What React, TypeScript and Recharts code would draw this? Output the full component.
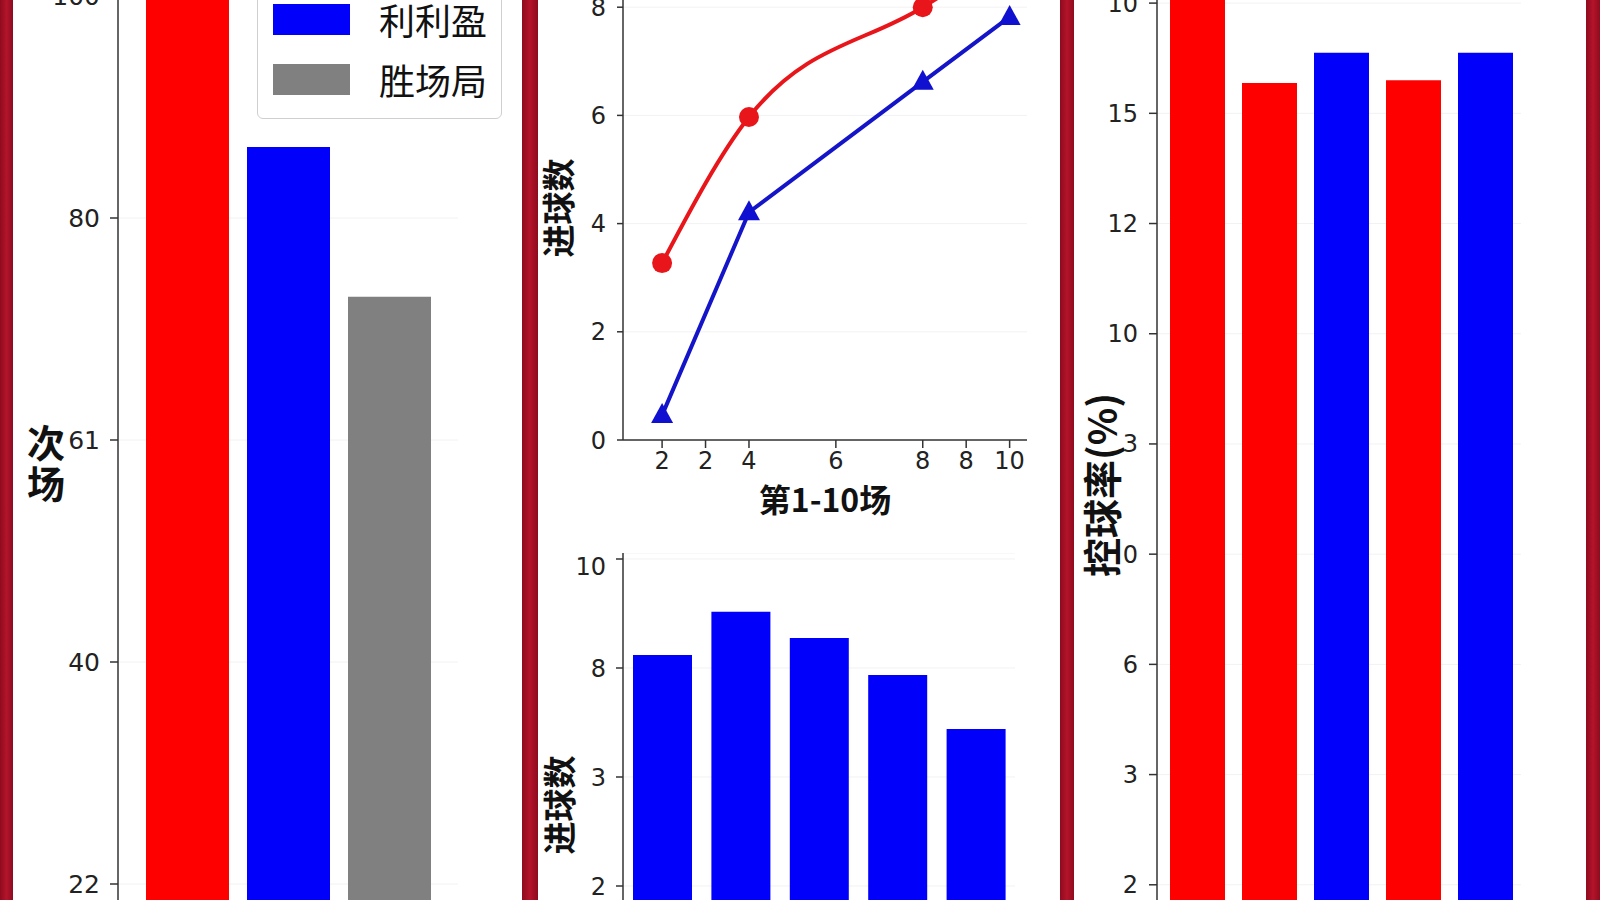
import { Bar, BarChart, CartesianGrid, Cell, Label, Legend, Line, LineChart, XAxis, YAxis } from "recharts"

const CJK = '"Noto Sans CJK SC", "Noto Sans", sans-serif'
const NUM = '"DejaVu Sans", sans-serif'
const RED = '#fe0000'
const BLUE = '#0000fb'
const GRAY = '#808080'

// left panel: counts
const countKeys = ['total', 'profit', 'wins']
const countNames = ['', '利利盈', '胜场局']
const countValues = [108, 86.4, 72.9]
const countColors = [RED, BLUE, GRAY]
const countTicks = [20, 40, 60, 80, 100]
const countTickLabels = ['22', '40', '61', '80', '100']

// middle top: goals per match
const matchX = [2, 4, 8, 10]
const redGoals = [3.27, 5.97, 8.0, 9.0]
const blueGoals = [0.46, 4.21, 6.62, 7.82]
const matchTicks = [2, 3, 4, 6, 8, 9, 10]
const matchTickLabels = ['2', '2', '4', '6', '8', '8', '10']
const goalTicks = [0, 2, 4, 6, 8]

// middle bottom: goals per round
const roundNames = ['1', '2', '3', '4', '5']
const roundGoals = [8.24, 9.03, 8.55, 7.87, 6.88]
const roundTicks = [4, 6, 8, 10]
const roundTickLabels = ['2', '3', '8', '10']

// right panel: possession
const possessionNames = ['1', '2', '3', '4', '5']
const possessionValues = [18.8, 16.55, 17.1, 16.6, 17.1]
const possessionColors = [RED, RED, BLUE, RED, BLUE]
const possessionTicks = [2, 4, 6, 8, 10, 12, 14, 16, 18]
const possessionTickLabels = ['2', '3', '6', '0', '3', '10', '12', '15', '10']

const countData = [Object.fromEntries([['name', 'all'], ...countKeys.map((k, i) => [k, countValues[i]])])]
const matchData = matchX.map((x, i) => ({ x, red: redGoals[i], blue: blueGoals[i] }))
const roundData = roundNames.map((name, i) => ({ name, goals: roundGoals[i] }))
const possessionData = possessionNames.map((name, i) => ({ name, rate: possessionValues[i] }))

const fmt = (ticks: number[], labels: string[]) => (v: number) => labels[ticks.indexOf(v)] ?? ''

const axisLine = { stroke: '#333', strokeWidth: 1.5 }
const tickLine = { stroke: '#333', strokeWidth: 1.5 }
const tickStyle = (size: number) => ({ fontSize: size, fill: '#222', fontFamily: NUM })

// axis title drawn relative to the axis box
const rotatedTitle = (text: string, dx: number, dy: number, size: number) => (props: any) => {
  const vb = props.viewBox
  const x = vb.x + dx
  const y = vb.y + dy
  return (
    <text x={x} y={y} transform={`rotate(-90, ${x}, ${y})`} textAnchor="middle" dominantBaseline="central"
      fontSize={size} fontWeight={700} fontFamily={CJK} fill="#111">{text}</text>
  )
}

const stackedTitle = (text: string, dx: number, dy: number, size: number, step: number) => (props: any) => {
  const vb = props.viewBox
  return (
    <g>
      {text.split('').map((ch, i) => (
        <text key={i} x={vb.x + dx} y={vb.y + dy + i * step} textAnchor="middle" dominantBaseline="central"
          fontSize={size} fontWeight={700} fontFamily={CJK} fill="#111">{ch}</text>
      ))}
    </g>
  )
}

const flatTitle = (text: string, dx: number, dy: number, size: number) => (props: any) => {
  const vb = props.viewBox
  return (
    <text x={vb.x + dx} y={vb.y + dy} textAnchor="middle" dominantBaseline="central"
      fontSize={size} fontWeight={700} fontFamily={CJK} fill="#111">{text}</text>
  )
}

const CountLegend = (props: any) => (
  <div style={{ border: '1.5px solid #cfcfcf', borderRadius: 6, background: '#fff', padding: '15px 0 9px 15px', boxSizing: 'border-box' }}>
    {(props.payload || []).filter((p: any) => p.type !== 'none' && p.value).map((p: any) => (
      <div key={p.value} style={{ display: 'flex', alignItems: 'center', height: 60 }}>
        <span style={{ width: 77, height: 31, background: p.color, display: 'inline-block' }} />
        <span style={{ marginLeft: 29, fontSize: 36, fontFamily: CJK, color: '#111', lineHeight: 1 }}>{p.value}</span>
      </div>
    ))}
  </div>
)

const Triangle = (props: any) => {
  const { cx, cy } = props
  if (cx == null || cy == null) return null
  return <path d={`M${cx},${cy - 12} L${cx + 11},${cy + 8} L${cx - 11},${cy + 8} Z`} fill="#1010d0" />
}

const divider = (left: number, width: number) => (
  <div style={{ position: 'absolute', left, top: 0, width, height: 900, background: 'linear-gradient(90deg, #8e0b1e, #b3142b 50%, #8e0b1e)' }} />
)

export default function App() {
  return (
    <div style={{ position: 'relative', width: 1600, height: 900, overflow: 'hidden', background: '#fff' }}>
      <style>{'body{margin:0}'}</style>

      {/* left panel */}
      <div style={{ position: 'absolute', left: 13, top: -226 }}>
        <BarChart width={445} height={1332} data={countData} margin={{ top: 0, right: 0, bottom: 0, left: 0 }} barSize={83} barGap={18}>
          <CartesianGrid vertical={false} stroke="#f2f2f2" />
          <XAxis dataKey="name" hide />
          <YAxis width={105} domain={[0, 120]} ticks={countTicks} tickFormatter={fmt(countTicks, countTickLabels)}
            axisLine={axisLine} tickLine={tickLine} tickSize={8} tickMargin={10} tick={tickStyle(25)}>
            <Label content={stackedTitle('次场', 33, 666, 38, 41)} />
          </YAxis>
          <Legend layout="vertical" align="center" verticalAlign="middle" wrapperStyle={{ left: 244, top: 199, width: 245 }} content={CountLegend} />
          {countKeys.map((k, i) => (
            <Bar key={k} dataKey={k} name={countNames[i]} fill={countColors[i]} isAnimationActive={false} legendType={i === 0 ? 'none' : 'rect'} />
          ))}
        </BarChart>
      </div>

      {/* middle top */}
      <div style={{ position: 'absolute', left: 528, top: -101 }}>
        <LineChart width={509} height={641} data={matchData} margin={{ top: 0, right: 10, bottom: 40, left: 0 }}>
          <CartesianGrid vertical={false} stroke="#f2f2f2" />
          <XAxis dataKey="x" type="number" domain={[1.1, 10.4]} ticks={matchTicks} tickFormatter={fmt(matchTicks, matchTickLabels)}
            height={60} axisLine={axisLine} tickLine={tickLine} tickSize={8} tickMargin={4} tick={tickStyle(24)} interval={0}>
            <Label content={flatTitle('第1-10场', 202, 58, 32)} />
          </XAxis>
          <YAxis width={95} domain={[0, 10]} ticks={goalTicks} axisLine={axisLine} tickLine={tickLine} tickSize={6} tickMargin={11} tick={tickStyle(24)}>
            <Label content={rotatedTitle('进球数', 29, 309, 33)} />
          </YAxis>
          <Line type="monotone" dataKey="red" stroke="#e8161a" strokeWidth={4} dot={{ r: 10, fill: '#e8161a', stroke: 'none' }} isAnimationActive={false} />
          <Line type="linear" dataKey="blue" stroke="#1414c8" strokeWidth={4} dot={<Triangle />} isAnimationActive={false} />
        </LineChart>
      </div>

      {/* middle bottom */}
      <div style={{ position: 'absolute', left: 528, top: 553 }}>
        <BarChart width={487} height={551} data={roundData} margin={{ top: 0, right: 0, bottom: 0, left: 0 }} barSize={59}>
          <CartesianGrid vertical={false} stroke="#f2f2f2" />
          <XAxis dataKey="name" hide />
          <YAxis width={95} domain={[0, 10.11]} ticks={roundTicks} tickFormatter={fmt(roundTicks, roundTickLabels)}
            axisLine={axisLine} tickLine={tickLine} tickSize={7} tickMargin={10} tick={tickStyle(24)}>
            <Label content={rotatedTitle('进球数', 30, 252, 33)} />
          </YAxis>
          <Bar dataKey="goals" fill={BLUE} isAnimationActive={false} />
        </BarChart>
      </div>

      {/* right panel */}
      <div style={{ position: 'absolute', left: 1074, top: -52 }}>
        <BarChart width={447} height={1047} data={possessionData} margin={{ top: 0, right: 0, bottom: 0, left: 0 }} barSize={55}>
          <CartesianGrid vertical={false} stroke="#f2f2f2" />
          <XAxis dataKey="name" hide padding={{ left: 4, right: 0 }} />
          <YAxis width={83} domain={[0, 19]} ticks={possessionTicks} tickFormatter={fmt(possessionTicks, possessionTickLabels)}
            axisLine={axisLine} tickLine={tickLine} tickSize={8} tickMargin={11} tick={tickStyle(24)}>
            <Label content={rotatedTitle('控球率(%)', 26, 537, 39)} />
          </YAxis>
          <Bar dataKey="rate" isAnimationActive={false}>
            {possessionData.map((d, i) => (
              <Cell key={d.name} fill={possessionColors[i]} />
            ))}
          </Bar>
        </BarChart>
      </div>

      {divider(0, 13)}
      {divider(522, 16)}
      {divider(1060, 14)}
      {divider(1586, 14)}
    </div>
  )
}
